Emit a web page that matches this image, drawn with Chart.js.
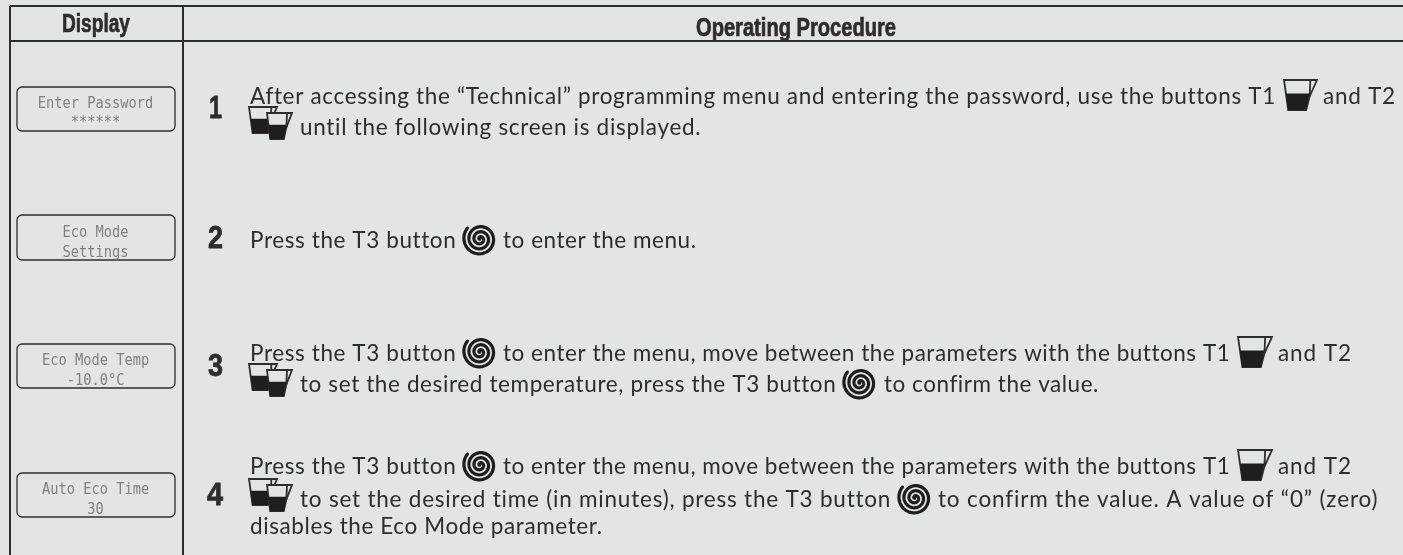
<!DOCTYPE html>
<html>
<head>
<meta charset="utf-8">
<style>
    html, body { margin: 0; padding: 0; background: #e3e4e6; }
    canvas { display: block; }
</style>
<script src="https://cdn.jsdelivr.net/npm/chart.js@4"></script>
</head>
<body>
<canvas id="myChart" width="1403" height="555"></canvas>
<script>
const CUP = '@cup';
const CUPS = '@cups';
const SPIRAL = '@spiral';

const headers = ['Display', 'Operating Procedure'];
const stepNumbers = ['1', '2', '3', '4'];
const displayTop = ['Enter Password', 'Eco Mode', 'Eco Mode Temp', 'Auto Eco Time'];
const displayBottom = ['******', 'Settings', '-10.0°C', '30'];

const procedureLines = [
    ['After accessing the “Technical” programming menu and entering the password, use the buttons T1', CUP, 'and T2'],
    [CUPS, 'until the following screen is displayed.'],
    ['Press the T3 button', SPIRAL, 'to enter the menu.'],
    ['Press the T3 button', SPIRAL, 'to enter the menu, move between the parameters with the buttons T1', CUP, 'and T2'],
    [CUPS, 'to set the desired temperature, press the T3 button', SPIRAL, 'to confirm the value.'],
    ['Press the T3 button', SPIRAL, 'to enter the menu, move between the parameters with the buttons T1', CUP, 'and T2'],
    [CUPS, 'to set the desired time (in minutes), press the T3 button', SPIRAL, 'to confirm the value. A value of “0” (zero)'],
    ['disables the Eco Mode parameter.']
];

// layout of the table, in page pixels
const ruleX = [10, 183];
const ruleY = [6, 41];
const boxLeft = 17, boxRight = 175;
const boxTops = [87, 215, 344, 473];
const boxBottoms = [131, 260, 388, 517];
const displayBaselines = [[108, 127], [237, 257], [365, 385], [494, 514]];
const numberSpans = [[210, 221], [209, 222], [209, 222], [208, 222]];
const numberBaselines = [118, 248, 376, 505];
const lineBaselines = [104, 135, 248, 361, 392, 474, 507, 534];
const lineSpans = [
    [[250, 1274], [1284, 1317], [1323, 1395]],
    [[249, 292], [300, 701]],
    [[250, 455], [463, 497], [503, 696]],
    [[250, 455], [463, 497], [503, 1229], [1238, 1272], [1278, 1351]],
    [[249, 292], [300, 835], [843, 877], [884, 1098]],
    [[250, 455], [463, 497], [503, 1229], [1238, 1272], [1278, 1351]],
    [[249, 292], [300, 890], [898, 932], [938, 1377]],
    [[250, 602]]
];

const INK = '#2e2c2d';
const PAPER = '#e3e4e6';

function fitText(ctx, text, x0, x1, y) {
    ctx.letterSpacing = '0px';
    const w = ctx.measureText(text).width;
    ctx.letterSpacing = ((x1 - x0 - w) / Math.max(text.length - 1, 1)) + 'px';
    ctx.textAlign = 'left';
    ctx.fillText(text, x0, y);
    ctx.letterSpacing = '0px';
}

// same idea, but squeezes the glyphs instead of the gaps (no condensed font here)
function squeezeText(ctx, text, x0, x1, y, heavy) {
    const w = ctx.measureText(text).width;
    ctx.save();
    ctx.textAlign = 'left';
    ctx.translate(x0, y);
    ctx.scale((x1 - x0) / w, 1);
    ctx.fillText(text, 0, 0);
    if (heavy) {
        ctx.strokeStyle = ctx.fillStyle;
        ctx.lineWidth = heavy;
        ctx.strokeText(text, 0, 0);
    }
    ctx.restore();
}

function drawCup(ctx, x, y, w, h) {
    ctx.save();
    ctx.fillStyle = PAPER;
    ctx.strokeStyle = INK;
    ctx.lineWidth = 1.8;
    const bw = w * 0.8;
    ctx.beginPath();
    ctx.moveTo(x, y);
    ctx.lineTo(x + w, y);
    ctx.lineTo(x + bw * 0.97, y + h * 0.55);
    ctx.lineTo(x + bw * 0.84, y + h);
    ctx.lineTo(x + bw * 0.16, y + h);
    ctx.closePath();
    ctx.fill();
    ctx.stroke();
    ctx.beginPath();
    ctx.moveTo(x + bw, y);
    ctx.lineTo(x + bw * 0.97, y + h * 0.55);
    ctx.stroke();
    ctx.fillStyle = '#1f1d1e';
    ctx.beginPath();
    ctx.moveTo(x + bw * 0.07, y + h * 0.45);
    ctx.lineTo(x + bw * 0.97, y + h * 0.45);
    ctx.lineTo(x + bw * 0.84, y + h);
    ctx.lineTo(x + bw * 0.16, y + h);
    ctx.closePath();
    ctx.fill();
    ctx.restore();
}

function drawSpiral(ctx, cx, cy, r) {
    ctx.save();
    ctx.strokeStyle = '#1f1d1e';
    ctx.lineWidth = r * 0.19;
    ctx.lineCap = 'round';
    ctx.beginPath();
    const turns = 3.2;
    for (let i = 0; i <= 240; i++) {
        const t = i / 240;
        const a = t * turns * Math.PI * 2 + 2.6;
        const d = r * 0.95 * t + 0.5;
        const px = cx + Math.cos(a) * d;
        const py = cy + Math.sin(a) * d;
        if (i === 0) ctx.moveTo(px, py); else ctx.lineTo(px, py);
    }
    ctx.stroke();
    ctx.restore();
}

const tablePlugin = {
    id: 'table',
    beforeDraw(chart) {
        const ctx = chart.ctx;
        ctx.save();
        ctx.fillStyle = PAPER;
        ctx.fillRect(0, 0, chart.width, chart.height);
        ctx.restore();
    },
    afterDatasetsDraw(chart) {
        const ctx = chart.ctx;
        const sx = chart.scales.x, sy = chart.scales.y;
        ctx.save();
        ctx.textBaseline = 'alphabetic';

        // headers
        ctx.fillStyle = INK;
        ctx.font = 'bold 25px "Liberation Sans"';
        squeezeText(ctx, headers[0], sx.getPixelForValue(62), sx.getPixelForValue(130), sy.getPixelForValue(32), 0.7);
        squeezeText(ctx, headers[1], sx.getPixelForValue(696), sx.getPixelForValue(896), sy.getPixelForValue(36), 0.7);

        // display boxes
        stepNumbers.forEach((num, i) => {
            ctx.strokeStyle = INK;
            ctx.lineWidth = 1.3;
            ctx.beginPath();
            ctx.roundRect(sx.getPixelForValue(boxLeft), sy.getPixelForValue(boxTops[i]),
                boxRight - boxLeft, boxBottoms[i] - boxTops[i], 5);
            ctx.stroke();

            ctx.fillStyle = '#7f8081';
            ctx.font = '15.5px "DejaVu Sans Mono"';
            [displayTop[i], displayBottom[i]].forEach((txt, j) => {
                const half = txt.length * 8.25 / 2;
                squeezeText(ctx, txt, sx.getPixelForValue(95.5 - half), sx.getPixelForValue(95.5 + half),
                    sy.getPixelForValue(displayBaselines[i][j]));
            });

            ctx.fillStyle = INK;
            ctx.font = 'bold 32px "Liberation Sans"';
            squeezeText(ctx, num, sx.getPixelForValue(numberSpans[i][0] - 1), sx.getPixelForValue(numberSpans[i][1] + 1),
                sy.getPixelForValue(numberBaselines[i]), 0.8);
        });

        // procedure text and its button icons
        ctx.font = '22.5px Lato';
        procedureLines.forEach((tokens, i) => {
            const base = lineBaselines[i];
            tokens.forEach((tok, k) => {
                const x0 = sx.getPixelForValue(lineSpans[i][k][0]);
                const x1 = sx.getPixelForValue(lineSpans[i][k][1]);
                const y = sy.getPixelForValue(base);
                if (tok === CUP) {
                    drawCup(ctx, x0, y - 24, x1 - x0, 30);
                } else if (tok === CUPS) {
                    drawCup(ctx, x0, y - 28, 28, 26);
                    drawCup(ctx, x0 + 18, y - 22, 25, 26);
                } else if (tok === SPIRAL) {
                    drawSpiral(ctx, (x0 + x1) / 2, y - 9, (x1 - x0) / 2);
                } else {
                    ctx.fillStyle = INK;
                    fitText(ctx, tok, x0, x1, y);
                }
            });
        });
        ctx.restore();
    }
};

function rule(points) {
    return {
        data: points,
        showLine: true,
        pointRadius: 0,
        borderColor: INK,
        borderWidth: 2
    };
}

const data = {
    datasets: [
        rule([{ x: ruleX[0], y: ruleY[0] }, { x: 1403, y: ruleY[0] }]),
        rule([{ x: ruleX[0], y: ruleY[1] }, { x: 1403, y: ruleY[1] }]),
        rule([{ x: ruleX[0], y: ruleY[0] }, { x: ruleX[0], y: 555 }]),
        rule([{ x: ruleX[1], y: ruleY[0] }, { x: ruleX[1], y: 555 }])
    ]
};

const config = {
    type: 'scatter',
    data: data,
    plugins: [tablePlugin],
    options: {
        responsive: false,
        animation: false,
        layout: { padding: 0 },
        plugins: {
            legend: { display: false },
            title: { display: false },
            tooltip: { enabled: false }
        },
        scales: {
            x: { type: 'linear', min: 0, max: 1403, display: false },
            y: { type: 'linear', min: 0, max: 555, reverse: true, display: false }
        }
    }
};

new Chart(document.getElementById('myChart'), config);
</script>
</body>
</html>
